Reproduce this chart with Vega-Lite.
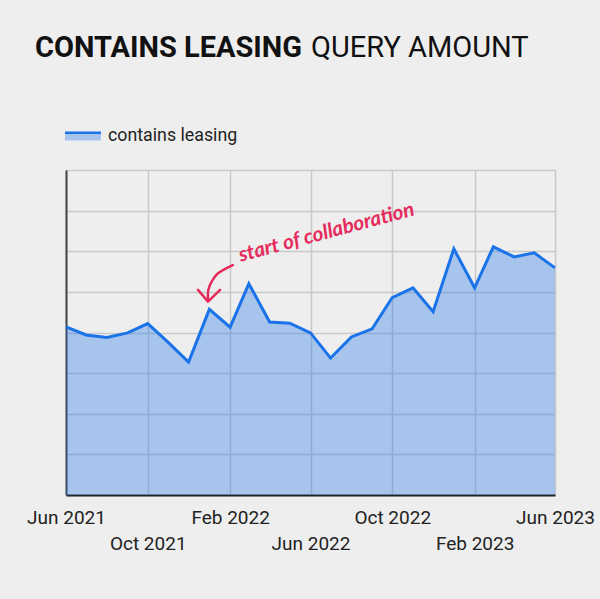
{
  "$schema": "https://vega.github.io/schema/vega-lite/v6.json",
  "width": 489,
  "height": 325,
  "autosize": {"type": "none"},
  "padding": {"left": 66, "top": 170, "right": 45, "bottom": 104},
  "background": "#eeeeee",
  "config": {"font": "Roboto", "view": {"stroke": null}},
  "title": {
    "text": "QUERY AMOUNT",
    "subtitle": "CONTAINS LEASING",
    "anchor": "start",
    "frame": "group",
    "orient": "top",
    "font": "Roboto",
    "fontSize": 29,
    "fontWeight": "normal",
    "color": "#111111",
    "subtitleFont": "Roboto",
    "subtitleFontSize": 29,
    "subtitleFontWeight": "bold",
    "subtitleColor": "#111111",
    "subtitlePadding": -29,
    "dx": -31,
    "offset": 55,
    "encoding": {"dx": {"value": 245}}
  },
  "datasets": {
    "main": [
      {"date": "2021-06-01", "value": 4.14, "series": "contains leasing"},
      {"date": "2021-07-01", "value": 3.94, "series": "contains leasing"},
      {"date": "2021-08-01", "value": 3.88, "series": "contains leasing"},
      {"date": "2021-09-01", "value": 3.99, "series": "contains leasing"},
      {"date": "2021-10-01", "value": 4.22, "series": "contains leasing"},
      {"date": "2021-11-01", "value": 3.75, "series": "contains leasing"},
      {"date": "2021-12-01", "value": 3.27, "series": "contains leasing"},
      {"date": "2022-01-01", "value": 4.57, "series": "contains leasing"},
      {"date": "2022-02-01", "value": 4.13, "series": "contains leasing"},
      {"date": "2022-03-01", "value": 5.2, "series": "contains leasing"},
      {"date": "2022-04-01", "value": 4.26, "series": "contains leasing"},
      {"date": "2022-05-01", "value": 4.23, "series": "contains leasing"},
      {"date": "2022-06-01", "value": 3.99, "series": "contains leasing"},
      {"date": "2022-07-01", "value": 3.37, "series": "contains leasing"},
      {"date": "2022-08-01", "value": 3.89, "series": "contains leasing"},
      {"date": "2022-09-01", "value": 4.09, "series": "contains leasing"},
      {"date": "2022-10-01", "value": 4.86, "series": "contains leasing"},
      {"date": "2022-11-01", "value": 5.1, "series": "contains leasing"},
      {"date": "2022-12-01", "value": 4.51, "series": "contains leasing"},
      {"date": "2023-01-01", "value": 6.06, "series": "contains leasing"},
      {"date": "2023-02-01", "value": 5.1, "series": "contains leasing"},
      {"date": "2023-03-01", "value": 6.11, "series": "contains leasing"},
      {"date": "2023-04-01", "value": 5.86, "series": "contains leasing"},
      {"date": "2023-05-01", "value": 5.96, "series": "contains leasing"},
      {"date": "2023-06-01", "value": 5.59, "series": "contains leasing"}
    ],
    "curve": [
      {"date": "2022-02-05T00:00:00Z", "value": 5.66, "o": 1},
      {"date": "2022-01-14T00:00:00Z", "value": 5.46, "o": 2},
      {"date": "2022-01-04T12:00:00Z", "value": 5.25, "o": 3},
      {"date": "2021-12-30T12:00:00Z", "value": 5.05, "o": 4},
      {"date": "2021-12-30T00:00:00Z", "value": 4.8, "o": 5}
    ],
    "head": [
      {"date": "2021-12-15T00:00:00Z", "value": 5.05, "o": 1},
      {"date": "2021-12-30T00:00:00Z", "value": 4.76, "o": 2},
      {"date": "2022-01-17T00:00:00Z", "value": 5.05, "o": 3}
    ],
    "note": [
      {"date": "2022-02-17T00:00:00Z", "value": 5.74, "label": "start of collaboration"}
    ]
  },
  "encoding": {
    "x": {
      "field": "date",
      "type": "temporal",
      "scale": {
        "type": "utc",
        "domain": [
          {"year": 2021, "month": 6, "date": 1, "utc": true},
          {"year": 2023, "month": 6, "date": 1, "utc": true}
        ]
      },
      "axis": {
        "title": null,
        "values": [
          {"year": 2021, "month": 6, "date": 1, "utc": true},
          {"year": 2021, "month": 10, "date": 1, "utc": true},
          {"year": 2022, "month": 2, "date": 1, "utc": true},
          {"year": 2022, "month": 6, "date": 1, "utc": true},
          {"year": 2022, "month": 10, "date": 1, "utc": true},
          {"year": 2023, "month": 2, "date": 1, "utc": true},
          {"year": 2023, "month": 6, "date": 1, "utc": true}
        ],
        "format": "%b %Y",
        "labelFlush": false,
        "labelOverlap": false,
        "ticks": false,
        "domainColor": "#222222",
        "domainWidth": 2,
        "gridColor": "#c9c9c9",
        "gridWidth": 1.5,
        "labelFont": "Roboto",
        "labelFontSize": 19,
        "labelColor": "#222222",
        "labelPadding": {
          "condition": {"test": "((utcyear(datum.value)-2021)*12 + utcmonth(datum.value) - 5) % 8 == 4", "value": 39},
          "value": 13
        }
      }
    },
    "y": {
      "field": "value",
      "type": "quantitative",
      "scale": {"domain": [0, 8], "nice": false, "zero": true},
      "axis": {
        "title": null,
        "values": [0, 1, 2, 3, 4, 5, 6, 7, 8],
        "labels": false,
        "ticks": false,
        "domainColor": "#444444",
        "domainWidth": 2,
        "gridColor": "#c9c9c9",
        "gridWidth": 1.5
      }
    }
  },
  "layer": [
    {
      "data": {"name": "main"},
      "mark": {"type": "area", "color": "#1a73e8", "opacity": 0.34}
    },
    {
      "data": {"name": "main"},
      "mark": {"type": "line", "strokeWidth": 3},
      "encoding": {
        "color": {
          "field": "series",
          "type": "nominal",
          "scale": {"domain": ["contains leasing"], "range": ["#1a73e8"]},
          "legend": {
            "orient": "none",
            "legendX": -1,
            "legendY": -52,
            "title": null,
            "padding": 0,
            "symbolType": "M-1,-0.25H1V0.25H-1Z",
            "symbolSize": 1296,
            "labelFont": "Roboto",
            "labelFontSize": 17.8,
            "labelColor": "#222222",
            "labelOffset": 7,
            "encode": {
              "symbols": {
                "update": {
                  "fill": {"value": {"gradient": "linear", "x1": 0, "y1": 0, "x2": 0, "y2": 1, "stops": [
                    {"offset": 0, "color": "#1a73e8"},
                    {"offset": 0.33, "color": "#1a73e8"},
                    {"offset": 0.331, "color": "#a6c4ec"},
                    {"offset": 1, "color": "#a6c4ec"}
                  ]}},
                  "strokeWidth": {"value": 0},
                  "opacity": {"value": 1}
                }
              }
            }
          }
        }
      }
    },
    {
      "data": {"name": "curve"},
      "mark": {"type": "line", "color": "#e62b5c", "strokeWidth": 2.5, "interpolate": "cardinal", "strokeCap": "round"},
      "encoding": {"order": {"field": "o", "type": "quantitative"}}
    },
    {
      "data": {"name": "head"},
      "mark": {"type": "line", "color": "#e62b5c", "strokeWidth": 2.5, "strokeCap": "round", "strokeJoin": "round"},
      "encoding": {"order": {"field": "o", "type": "quantitative"}}
    },
    {
      "data": {"name": "note"},
      "mark": {"type": "text", "color": "#e62b5c", "font": "Lato", "fontStyle": "italic", "fontWeight": "bold", "fontSize": 20.5, "angle": -15, "align": "left", "baseline": "alphabetic"},
      "encoding": {"text": {"field": "label"}}
    }
  ]
}
